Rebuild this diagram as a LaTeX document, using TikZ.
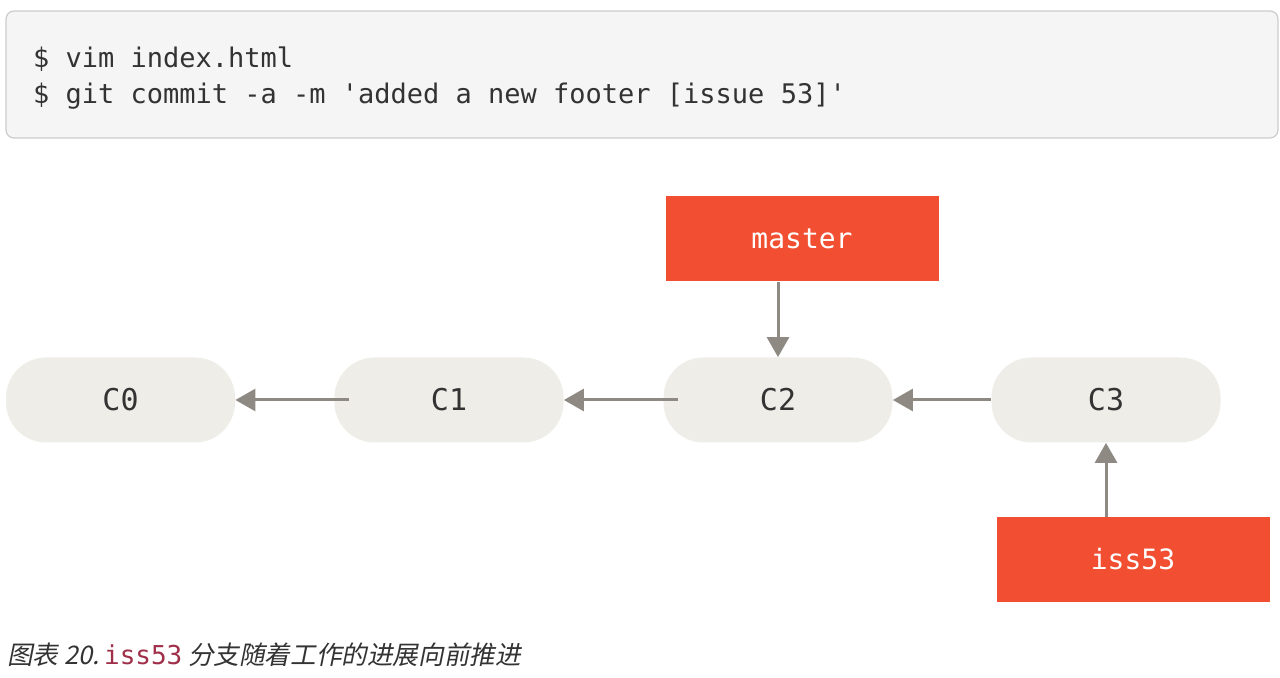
\documentclass[tikz,border=0pt]{standalone}
\usepackage{fontspec}
\setmainfont{Noto Sans CJK SC}
\setmonofont{DejaVu Sans Mono}
\newfontfamily\cjk{Noto Sans CJK SC}[AutoFakeSlant=0.2]
\usetikzlibrary{%
        arrows.meta,
        positioning
    }
\definecolor{gitorange}{RGB}{241, 78, 50}
\definecolor{commitfill}{RGB}{238, 237, 231}
\definecolor{arrowgray}{RGB}{142, 137, 130}
\definecolor{codefill}{RGB}{245, 245, 245}
\definecolor{codeline}{RGB}{204, 204, 204}
\definecolor{textgray}{RGB}{51, 51, 51}
\definecolor{branchred}{RGB}{160, 48, 74}
\tikzset{%
    commit/.style={%
        fill=commitfill, rounded corners=20pt,
        minimum width=114.5pt, minimum height=42.5pt,
        font=\ttfamily\fontsize{15}{18}\selectfont, text=textgray
    },
    branch/.style={%
        fill=gitorange, minimum width=136.5pt, minimum height=42.5pt,
        font=\ttfamily\fontsize{14}{18}\selectfont, text=white
    },
    pointer/.style={%
        draw=arrowgray, line width=1.5pt,
        -{Triangle[length=10pt, width=11pt]}
    }
}

\begin{document}
\begin{tikzpicture}[x=0.5pt, y=-0.5pt]

    \useasboundingbox (0, 0) rectangle (1280, 678);

    % Commands
    \node[draw=codeline, fill=codefill, rounded corners=4pt, line width=0.6pt,
          minimum width=636pt, minimum height=63.5pt] (code) at (642, 74.5) {};
    \node[anchor=west, align=left, text=textgray,
          font=\ttfamily\fontsize{13.5}{18}\selectfont] (cmds) at (26, 78)
        {\$ vim index.html\\
         \$ git commit -a -m 'added a new footer [issue 53]'};

    % Commits
    \node[commit] (c0) at (120.5, 400) {C0};
    \node[commit] (c1) at (449, 400) {C1};
    \node[commit] (c2) at (778, 400) {C2};
    \node[commit] (c3) at (1106, 400) {C3};

    % Branches
    \node[branch] (master) at (802, 239) {master};
    \node[branch] (iss53) at (1133, 559.5) {iss53};

    % Parents
    \draw[pointer] ([xshift=7.5pt] c1.west) -- (c0.east);
    \draw[pointer] ([xshift=7.5pt] c2.west) -- (c1.east);
    \draw[pointer] (c3.west) -- (c2.east);

    % Branch pointers
    \draw[pointer] (master.south -| c2.north) -- (c2.north);
    \draw[pointer] (iss53.north -| c3.south) -- (c3.south);

    % Caption
    \node[anchor=base west, text=textgray, inner sep=0pt,
          font=\cjk\itshape\fontsize{12.8}{15}\selectfont] (caption) at (7, 664)
        {图表 20.\,{\ttfamily\upshape\color{branchred}\fontsize{13}{15}\selectfont iss53}
         分支随着工作的进展向前推进};

\end{tikzpicture}
\end{document}
